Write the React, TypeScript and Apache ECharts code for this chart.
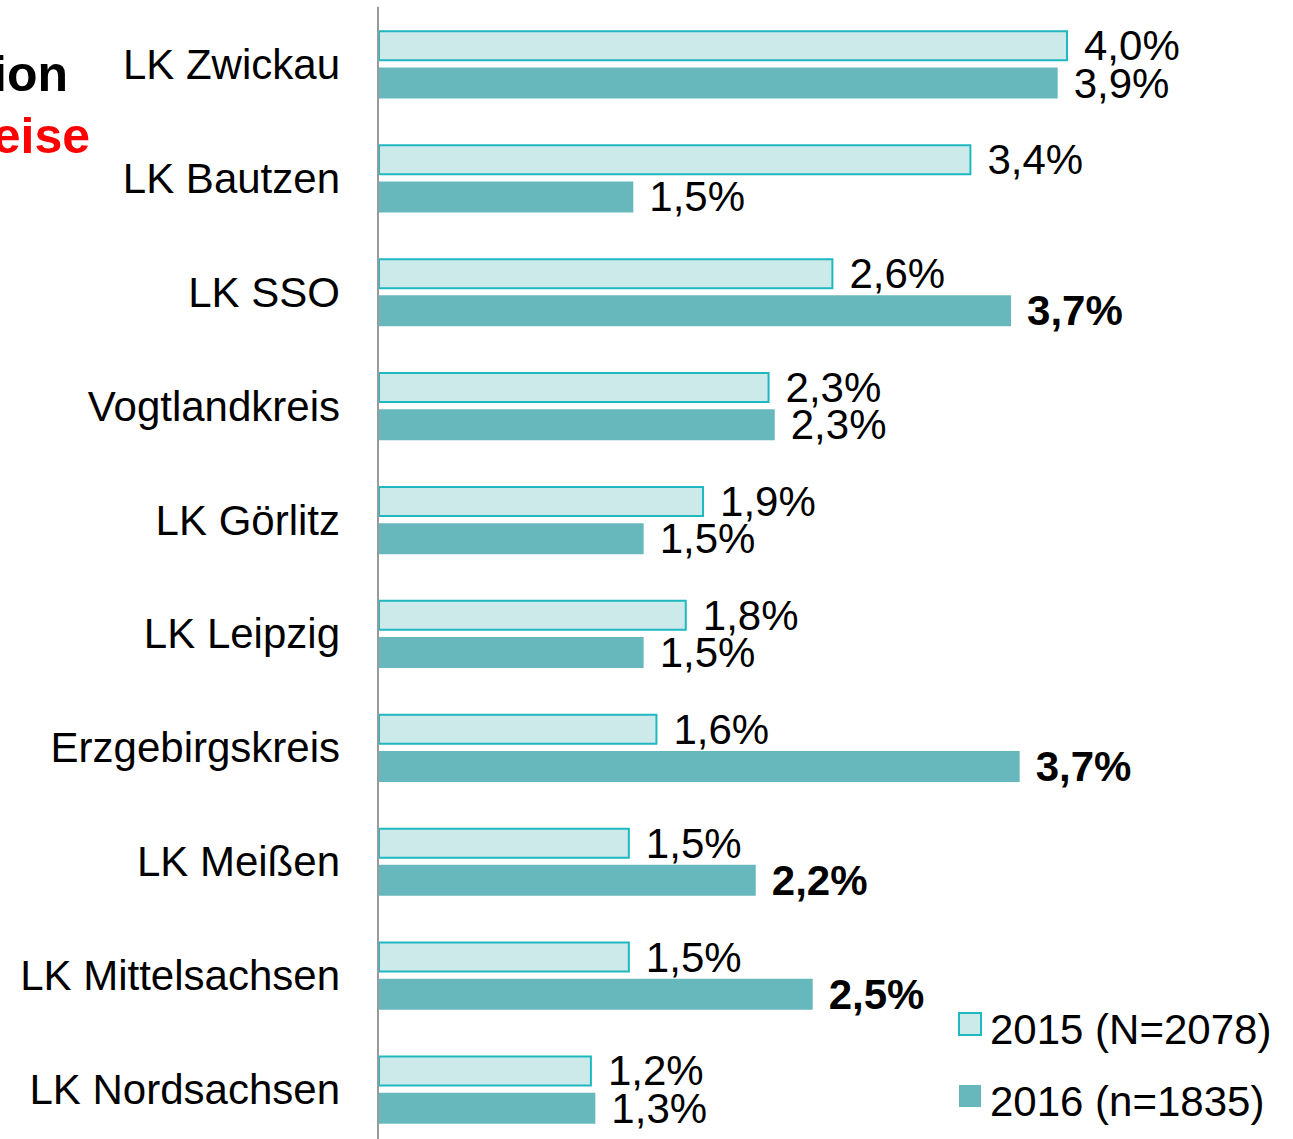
import React, { useEffect, useRef } from "react";
import * as echarts from "echarts";

const categories = [
  "LK Zwickau",
  "LK Bautzen",
  "LK SSO",
  "Vogtlandkreis",
  "LK Görlitz",
  "LK Leipzig",
  "Erzgebirgskreis",
  "LK Meißen",
  "LK Mittelsachsen",
  "LK Nordsachsen",
];
const values2015 = [4.0, 3.44, 2.64, 2.27, 1.89, 1.79, 1.62, 1.46, 1.46, 1.24];
const values2016 = [3.94, 1.48, 3.67, 2.3, 1.54, 1.54, 3.72, 2.19, 2.52, 1.26];
const bold2016 = [false, false, true, false, false, false, true, true, true, false];
const seriesNames = ["2015 (N=2078)", "2016 (n=1835)"];
const titleFragments = ["ion", "eise"];

const FONT = "'Liberation Sans', Arial, sans-serif";
const fmt = (v: number) => v.toFixed(1).replace(".", ",") + "%";

export default function App() {
  const ref = useRef<HTMLDivElement>(null);
  useEffect(() => {
    if (!ref.current) return;
    const chart = echarts.init(ref.current, undefined, { renderer: "svg" });
    chart.setOption({
      animation: false,
      backgroundColor: "#ffffff",
      textStyle: { fontFamily: FONT },
      grid: {
        left: 378,
        top: 7.5,
        height: 1139,
        right: 52.5,
        containLabel: false,
        outerBoundsMode: "none",
      },
      xAxis: {
        type: "value",
        min: 0,
        max: 5,
        show: false,
        splitLine: { show: false },
      },
      yAxis: {
        type: "category",
        inverse: true,
        data: categories,
        axisLine: { show: true, lineStyle: { color: "#9a9a9a", width: 2 } },
        axisTick: { show: false },
        axisLabel: { fontSize: 42, color: "#000", margin: 38, fontFamily: FONT },
        z: 10,
      },
      legend: {
        orient: "vertical",
        left: 953,
        top: 1003,
        itemWidth: 22,
        itemHeight: 22,
        itemGap: 30,
        icon: "rect",
        formatter: (name: string) => `{t|${name}}`,
        textStyle: {
          fontSize: 42,
          color: "#000",
          fontFamily: FONT,
          rich: {
            t: { fontSize: 42, color: "#000", fontFamily: FONT, padding: [10, 0, 0, 4] },
          },
        },
        data: seriesNames,
      },
      graphic: [
        {
          type: "text",
          right: 1293 - 68,
          top: 49,
          style: { text: titleFragments[0], fontSize: 50, fontWeight: "bold", fill: "#000", fontFamily: FONT },
        },
        {
          type: "text",
          right: 1293 - 90,
          top: 111,
          style: { text: titleFragments[1], fontSize: 50, fontWeight: "bold", fill: "#ff0000", fontFamily: FONT },
        },
      ],
      series: [
        {
          name: seriesNames[0],
          type: "bar",
          barWidth: 31,
          barGap: "20%",
          data: values2015,
          itemStyle: { color: "#cdeaea", borderColor: "#1fb8c1", borderWidth: 2 },
          label: {
            show: true,
            position: "right",
            distance: 16,
            fontSize: 42,
            color: "#000",
            fontFamily: FONT,
            formatter: (p: any) => fmt(p.value),
          },
        },
        {
          name: seriesNames[1],
          type: "bar",
          barWidth: 31,
          data: values2016.map((v, i) => ({
            value: v,
            label: { fontWeight: bold2016[i] ? "bold" : "normal" },
          })),
          itemStyle: { color: "#67b8bd" },
          label: {
            show: true,
            position: "right",
            distance: 16,
            fontSize: 42,
            color: "#000",
            fontFamily: FONT,
            formatter: (p: any) => fmt(p.value),
          },
        },
      ],
    });
    return () => chart.dispose();
  }, []);
  return (
    <div
      ref={ref}
      style={{ position: "absolute", left: 0, top: 0, width: 1293, height: 1139 }}
    />
  );
}
